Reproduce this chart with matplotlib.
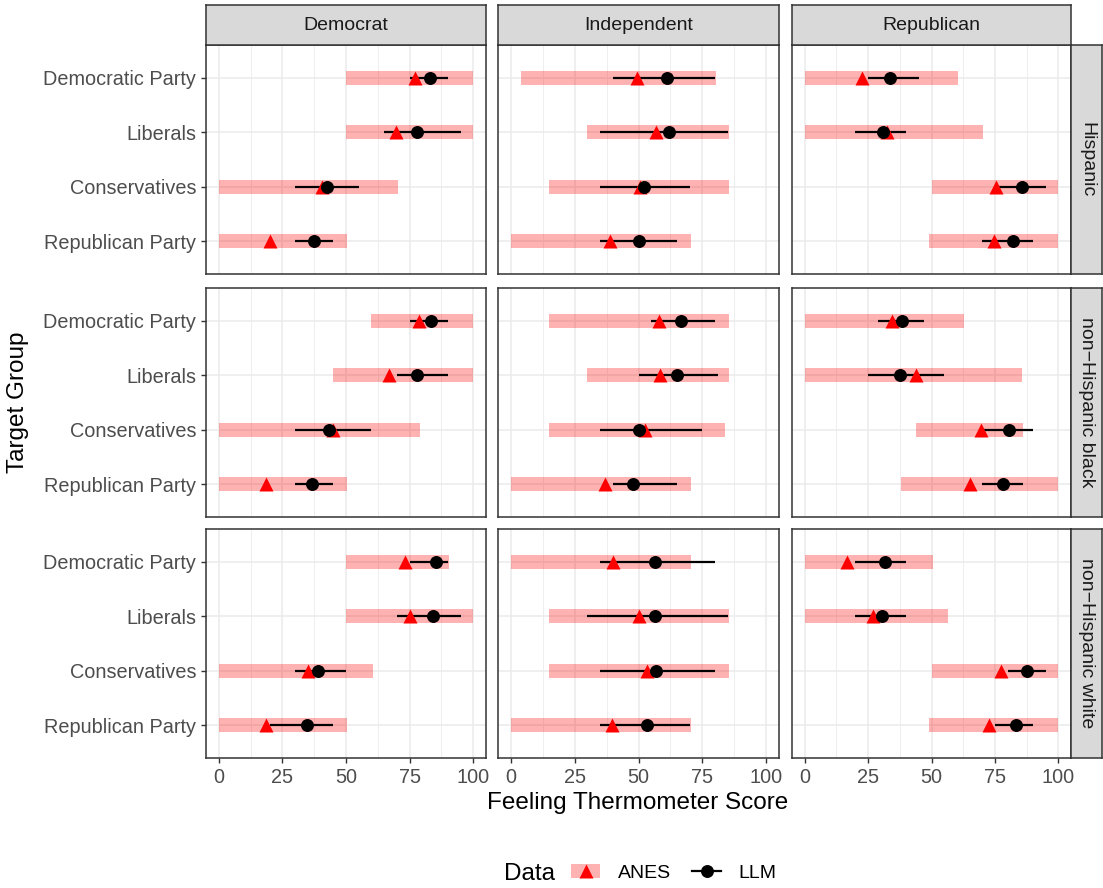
import numpy as np
import matplotlib
matplotlib.use("Agg")
import matplotlib.pyplot as plt
from matplotlib.patches import Rectangle
from matplotlib.lines import Line2D
from matplotlib.legend_handler import HandlerTuple

plt.rcParams['font.family'] = ['Liberation Sans', 'DejaVu Sans']

parties = ["Democrat", "Independent", "Republican"]
groups = ["Hispanic", "non\u2212Hispanic black", "non\u2212Hispanic white"]
targets = ["Democratic Party", "Liberals", "Conservatives", "Republican Party"]

# [group][party][target]
anes_lo = [
    [[50, 50, 0, 0], [4, 30, 15, 0], [0, 0, 50, 49]],
    [[60, 45, 0, 0], [15, 30, 15, 0], [0, 0, 44, 38]],
    [[50, 50, 0, 0], [0, 15, 15, 0], [0, 0, 50, 49]],
]
anes_hi = [
    [[100, 100, 70.5, 50.5], [80.5, 85.5, 85.5, 70.5], [60.5, 70.5, 100, 100]],
    [[100, 100, 79, 50.5], [85.5, 85.5, 84, 70.5], [63, 85.5, 86, 100]],
    [[90.5, 100, 60.5, 50.5], [70.5, 85.5, 85.5, 70.5], [50.5, 56.5, 100, 100]],
]
anes_mean = [
    [[77, 69.5, 40.5, 20], [49.5, 57, 50.5, 39], [22.5, 32.5, 75.5, 74.5]],
    [[78.5, 67, 45, 18.5], [58, 58.5, 52.5, 37], [34.5, 44, 69.5, 65]],
    [[73, 75, 35, 18.5], [40, 50, 53.5, 39.5], [16.5, 27, 77.5, 72.5]],
]
llm_mean = [
    [[83, 78, 42.5, 37.5], [61, 62, 52, 50], [33.5, 31, 85.5, 82]],
    [[83.5, 78, 43.5, 36.5], [66.5, 65, 50, 48], [38.5, 37.5, 80.5, 78]],
    [[85.5, 84, 39, 34.5], [56.5, 56.5, 57, 53.5], [31.5, 30.5, 87.5, 83.5]],
]
llm_lo = [
    [[75, 65, 30, 30], [40, 35, 35, 35], [25, 20, 75, 70]],
    [[75, 70, 30, 30], [55, 50, 35, 40], [29, 25, 70, 70]],
    [[75, 70, 30, 20], [35, 30, 35, 35], [20, 20, 80, 75]],
]
llm_hi = [
    [[90, 95, 55, 45], [80, 85, 70, 65], [45, 40, 95, 90]],
    [[90, 90, 60, 45], [80, 81, 75, 65], [47, 55, 90, 86]],
    [[90, 95, 50, 45], [80, 85, 80, 70], [40, 40, 95, 90]],
]

W, H = 1103, 888
fig = plt.figure(figsize=(W / 100, H / 100), dpi=100)


def fax(l, t, w, h):
    return fig.add_axes([l / W, 1 - (t + h) / H, w / W, h / H])


col_left = [206, 498, 792]
col_w = [280, 281, 279]
row_top = [45, 288, 529]
row_h = 229
ypos = np.arange(len(targets))[::-1] + 1  # top to bottom

for r in range(3):
    for c in range(3):
        ax = fax(col_left[c], row_top[r], col_w[c], row_h)
        ax.set_xlim(-5, 105)
        ax.set_ylim(0.4, 4.6)
        for x in np.arange(12.5, 100, 25):
            ax.axvline(x, color='#EBEBEB', lw=0.6, zorder=0)
        for x in np.arange(0, 101, 25):
            ax.axvline(x, color='#EBEBEB', lw=1.1, zorder=0)
        for y in ypos:
            ax.axhline(y, color='#EBEBEB', lw=1.1, zorder=0)

        lo = np.array(anes_lo[r][c])
        hi = np.array(anes_hi[r][c])
        ax.barh(ypos, hi - lo, left=lo, height=0.25, color='red', alpha=0.3,
                lw=0, zorder=2)
        ax.hlines(ypos, llm_lo[r][c], llm_hi[r][c], color='black', lw=1.6,
                  zorder=3)
        ax.plot(anes_mean[r][c], ypos, ls='none', marker='^', color='red',
                ms=10.5, mec='none', zorder=4)
        ax.plot(llm_mean[r][c], ypos, ls='none', marker='o', color='black',
                ms=8.3, zorder=5)

        for s in ax.spines.values():
            s.set_color('#333333')
            s.set_linewidth(1.1)
        ax.tick_params(colors='#333333', length=3.5, width=1.0,
                       labelcolor='#4D4D4D', labelsize=14.3)
        ax.set_xticks([0, 25, 50, 75, 100])
        ax.set_yticks(ypos)
        if c == 0:
            ax.set_yticklabels(targets)
        else:
            ax.tick_params(axis='y', left=False, labelleft=False)
        if r == 2:
            ax.set_xticklabels(['0', '25', '50', '75', '100'])
        else:
            ax.tick_params(axis='x', bottom=False, labelbottom=False)

        if r == 0:
            sax = fax(col_left[c], 5, col_w[c], 40)
            sax.set_facecolor('#D9D9D9')
            sax.set_xticks([])
            sax.set_yticks([])
            for s in sax.spines.values():
                s.set_color('#333333')
                s.set_linewidth(1.1)
            sax.text(0.5, 0.5, parties[c], ha='center', va='center',
                     fontsize=14, color='#1A1A1A', transform=sax.transAxes)
        if c == 2:
            sax = fax(1071, row_top[r], 31, row_h)
            sax.set_facecolor('#D9D9D9')
            sax.set_xticks([])
            sax.set_yticks([])
            for s in sax.spines.values():
                s.set_color('#333333')
                s.set_linewidth(1.1)
            sax.text(0.5, 0.5, groups[r], ha='center', va='center',
                     rotation=-90, fontsize=14, color='#1A1A1A',
                     transform=sax.transAxes)

fig.text(638 / W, 1 - 803 / H, "Feeling Thermometer Score", ha='center',
         va='center', fontsize=17.5)
fig.text(18 / W, 1 - 402 / H, "Target Group", ha='center', va='center',
         rotation=90, fontsize=17.5)

# legend
fig.text(504 / W, 1 - 874 / H, "Data", ha='left', va='center', fontsize=17.5)
anes_h = (Rectangle((0, 0), 1, 1, color='red', alpha=0.3, lw=0),
          Line2D([], [], ls='none', marker='^', color='red', ms=10.5, mec='none'))
llm_h = Line2D([], [], color='black', lw=1.6, marker='o', ms=8.3)
fig.legend([anes_h, llm_h], ["ANES", "LLM"], ncol=2, loc='center left',
           bbox_to_anchor=(571 / W, 1 - 873 / H), frameon=False, fontsize=14,
           handlelength=1.5, handleheight=0.7, handletextpad=0.9,
           columnspacing=1.1, borderpad=0, borderaxespad=0,
           handler_map={tuple: HandlerTuple(ndivide=1, pad=0)})

fig.savefig("out.png", dpi=100)
